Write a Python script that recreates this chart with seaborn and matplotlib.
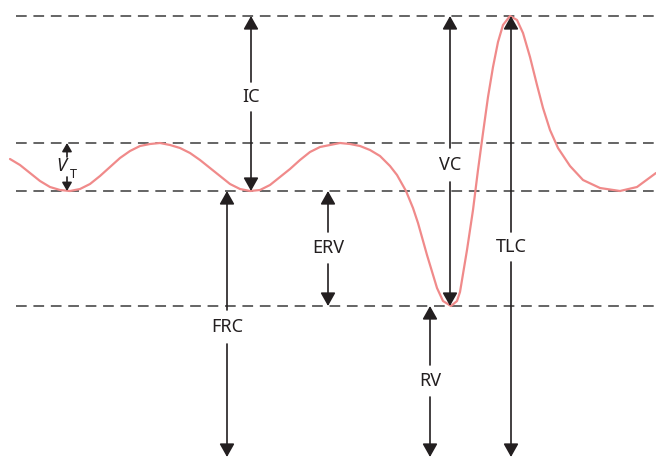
import numpy as np
import pandas as pd
import seaborn as sns
import matplotlib.pyplot as plt

# Spirogram trace (time in px, volume in px above the bottom edge)
t = [10, 20, 30, 40, 50, 60, 70, 80, 90, 100, 110, 120, 130, 140, 150, 160, 170, 180, 190, 200,
     210, 220, 230, 240, 250, 260, 270, 280, 290, 300, 310, 320, 330, 340, 350, 360, 370, 380,
     390, 397, 406, 413, 418, 427, 437, 443, 451, 457, 460, 467, 473, 478, 483, 488, 493, 498,
     503, 510, 517, 523, 530, 537, 543, 550, 558, 570, 583, 600, 620, 637, 656]
volume = [298, 292, 284, 276, 270, 267, 266, 268, 273, 281, 290, 299, 306, 311, 313, 314, 312, 309, 304, 297,
          289, 281, 273, 268, 266, 267, 272, 280, 288, 297, 305, 310, 312, 314, 313, 311, 307, 301,
          291, 282, 266, 249, 234, 202, 169, 156, 151, 156, 165, 207, 247, 287, 324, 360, 390, 415,
          432, 441, 437, 424, 400, 372, 349, 327, 309, 291, 277, 269, 266, 270, 284]

# Reference levels
levels = {'TLC': 441, 'EIL': 314, 'FRC': 266, 'RV': 151}

# Bracket arrows: label, x position, bottom, top, label centre, half gap
labels = ['IC', 'FRC', 'ERV', 'VC', 'RV', 'TLC']
arrow_x = [251, 227, 328, 450, 430, 511]
arrow_lo = [266, 0, 151, 151, 0, 0]
arrow_hi = [441, 266, 266, 441, 151, 441]
label_y = [360, 130, 209, 292, 76, 210]
half_gap = [15, 17, 16, 17, 16, 15]

sns.set_style('white')
plt.rcParams['font.family'] = ['Noto Sans', 'DejaVu Sans']

fig = plt.figure(figsize=(6.56, 4.57), dpi=100)
ax = fig.add_axes([0, 0, 1, 1])

# Dashed reference lines
for v in levels.values():
    ax.hlines(v, 16, 656, colors='#3a3a3a', lw=1.1, linestyles=(0, (7, 4.4)))

# The trace
df = pd.DataFrame({'t': t, 'volume': volume})
sns.lineplot(data=df, x='t', y='volume', ax=ax, color='#f08a8a', lw=1.6, sort=False)

ink = '#231f20'
big_head = '-|>,head_length=0.8,head_width=0.45'
small_head = '-|>,head_length=0.5,head_width=0.29'


def half_arrow(x, start, tip, style):
    ax.annotate('', xy=(x, tip), xytext=(x, start),
                arrowprops=dict(arrowstyle=style, color=ink, lw=1.2,
                                shrinkA=0, shrinkB=0, mutation_scale=10))


for lab, x, lo, hi, ly, g in zip(labels, arrow_x, arrow_lo, arrow_hi, label_y, half_gap):
    half_arrow(x, ly + g, hi, big_head)
    half_arrow(x, ly - g, lo, big_head)
    ax.text(x, ly, lab, ha='center', va='center', fontsize=13, color=ink)

# Tidal volume
half_arrow(67, 300, levels['EIL'], small_head)
half_arrow(67, 280, levels['FRC'], small_head)
ax.text(61, 291, 'V', ha='center', va='center', fontsize=13, style='italic', color=ink)
ax.text(73.5, 282.5, 'T', ha='center', va='center', fontsize=9, color=ink)

ax.set_xlim(0, 656)
ax.set_ylim(0, 457)
ax.axis('off')

fig.savefig('out.png', dpi=100)
